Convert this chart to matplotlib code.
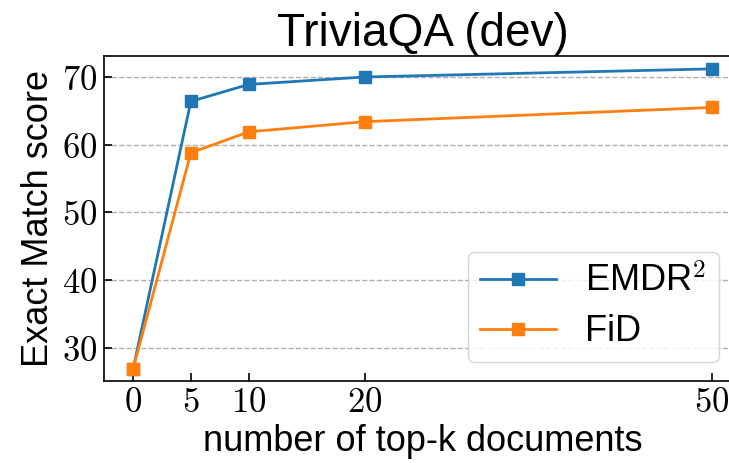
import matplotlib
matplotlib.use('Agg')
import matplotlib.pyplot as plt
from matplotlib.ticker import FuncFormatter

plt.rcParams['font.family'] = ['Liberation Sans', 'DejaVu Sans']
plt.rcParams['mathtext.fontset'] = 'cm'

# values
top_k = [0, 5, 10, 20, 50]
emdr2 = [26.8, 66.4, 68.9, 70.0, 71.2]
fid = [26.8, 58.8, 61.9, 63.4, 65.5]
x_ticks = [0, 5, 10, 20, 50]
y_ticks = [30, 40, 50, 60, 70]

fig = plt.figure(figsize=(7.29, 4.63), dpi=100)
ax = fig.add_axes([104/729, 1 - 381/463, 637/729, 325/463])

ax.plot(top_k, emdr2, color='#1f77b4', marker='s', markersize=9, linewidth=2,
        label=r'EMDR$^2$')
ax.plot(top_k, fid, color='#ff7f0e', marker='s', markersize=9, linewidth=2,
        label='FiD')

ax.set_xlim(-2.5, 52.5)
ax.set_ylim(25.1, 73.1)
ax.set_xticks(x_ticks)
ax.set_yticks(y_ticks)
fmt = FuncFormatter(lambda v, p: f'${v:.0f}$')
ax.xaxis.set_major_formatter(fmt)
ax.yaxis.set_major_formatter(fmt)
ax.tick_params(direction='in', labelsize=25, length=6, width=1.2)
ax.tick_params(axis='y', pad=5)
ax.grid(axis='y', linestyle='--', color='#b0b0b0', linewidth=1)
ax.set_axisbelow(True)
for s in ax.spines.values():
    s.set_linewidth(1.2)

ax.set_xlabel('number of top-k documents', fontsize=26, labelpad=4)
ax.set_ylabel('Exact Match score', fontsize=26, labelpad=4)
ax.set_title('TriviaQA (dev)', fontsize=33, pad=3)

ax.legend(loc='lower right', bbox_to_anchor=(719/729, 1 - 362/463),
          bbox_transform=fig.transFigure, borderaxespad=0, fontsize=26,
          handlelength=2.1, handletextpad=0.8, labelspacing=0.4,
          borderpad=0.35, framealpha=0.8, edgecolor='#cccccc')

fig.savefig('out.png', dpi=100)
